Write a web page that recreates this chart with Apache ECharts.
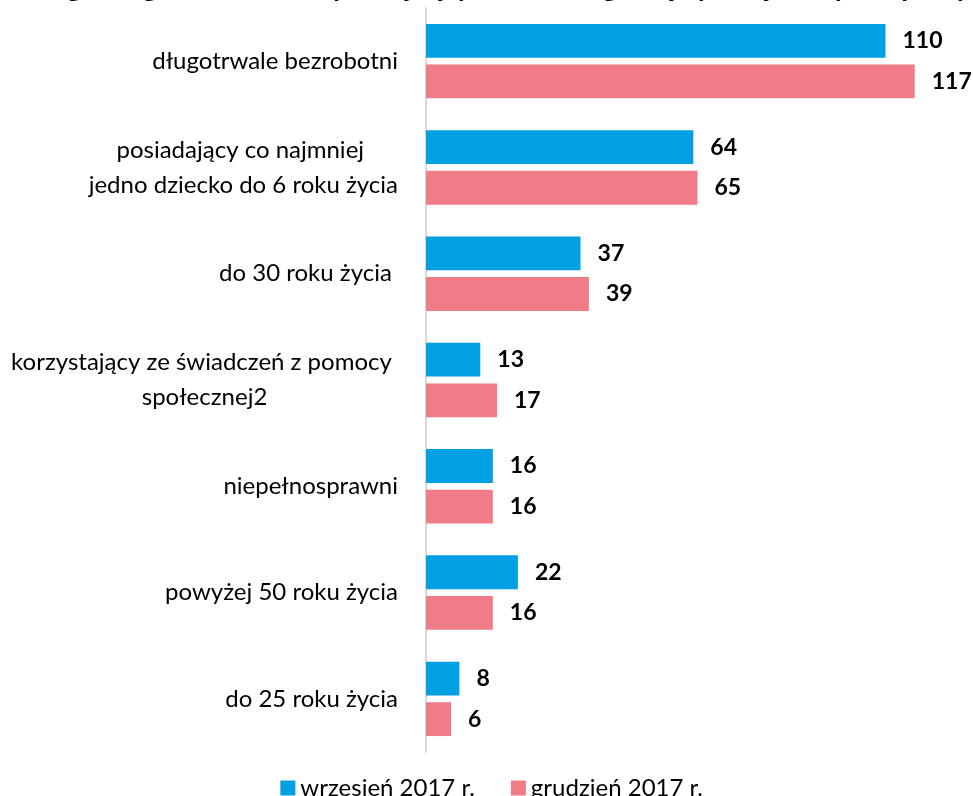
<!DOCTYPE html>
<html>
<head>
<meta charset="utf-8">
<script src="https://cdn.jsdelivr.net/npm/echarts@6/dist/echarts.min.js"></script>
<style>
  html, body { margin: 0; padding: 0; background: #ffffff; }
  #chart { width: 973px; height: 796px; }
</style>
</head>
<body>
<div id="chart"></div>
<script>
// Categories of unemployed persons (top to bottom)
const categories = [
  'długotrwale bezrobotni',
  'posiadający co najmniej \njedno dziecko do 6 roku życia',
  'do 30 roku życia ',
  'korzystający ze świadczeń z pomocy \nspołecznej2',
  'niepełnosprawni',
  'powyżej 50 roku życia',
  'do 25 roku życia'
];
// Counts at the end of each month
const september = [110, 64, 37, 13, 16, 22, 8];
const december = [117, 65, 39, 17, 16, 16, 6];
const seriesNames = ['wrzesień 2017 r.', 'grudzień 2017 r.'];
const titleText = 'Bezrobotni według kategorii bezrobotnych będących w szczególnej sytuacji na rynku pracy';

const FONT = 'Lato, "Open Sans", sans-serif';
const BLUE = '#00A0E2';
const PINK = '#F07C88';

const chart = echarts.init(document.getElementById('chart'), null, { renderer: 'canvas' });

// Each line of a category label is centred within its block
function centreLines(value) {
  return value.split('\n').map(function (l) { return '{c|' + l + '}'; }).join('\n');
}

function barSeries(name, data, color) {
  return {
    name: name,
    type: 'bar',
    data: data,
    barGap: '20%',
    barCategoryGap: '30%',
    itemStyle: { color: color },
    label: {
      show: true,
      position: 'right',
      distance: 17,
      fontFamily: FONT,
      fontSize: 23,
      fontWeight: 'bold',
      color: '#000000'
    }
  };
}

chart.setOption({
  animation: false,
  backgroundColor: '#ffffff',
  graphic: [{
    type: 'text',
    x: 970,
    y: -13,
    silent: true,
    style: {
      text: titleText,
      font: 'bold 28px ' + FONT,
      fill: '#000000',
      align: 'right',
      verticalAlign: 'middle'
    }
  }],
  grid: { left: 426, right: 4, top: 8, bottom: 44, containLabel: false },
  xAxis: {
    type: 'value',
    min: 0,
    max: 130,
    show: false
  },
  yAxis: {
    type: 'category',
    inverse: true,
    data: categories,
    axisLine: { show: true, lineStyle: { color: '#d9d9d9', width: 2 } },
    axisTick: { show: false },
    splitLine: { show: false },
    axisLabel: {
      margin: 28,
      formatter: centreLines,
      rich: {
        c: {
          align: 'center',
          fontFamily: FONT,
          fontSize: 24,
          lineHeight: 35,
          color: '#000000'
        }
      }
    }
  },
  legend: {
    data: seriesNames,
    top: 771,
    right: 265,
    icon: 'rect',
    itemWidth: 15,
    itemHeight: 15,
    itemGap: 36,
    textStyle: { fontFamily: FONT, fontSize: 24, color: '#000000' }
  },
  series: [
    barSeries(seriesNames[0], september, BLUE),
    barSeries(seriesNames[1], december, PINK)
  ]
});
</script>
</body>
</html>
